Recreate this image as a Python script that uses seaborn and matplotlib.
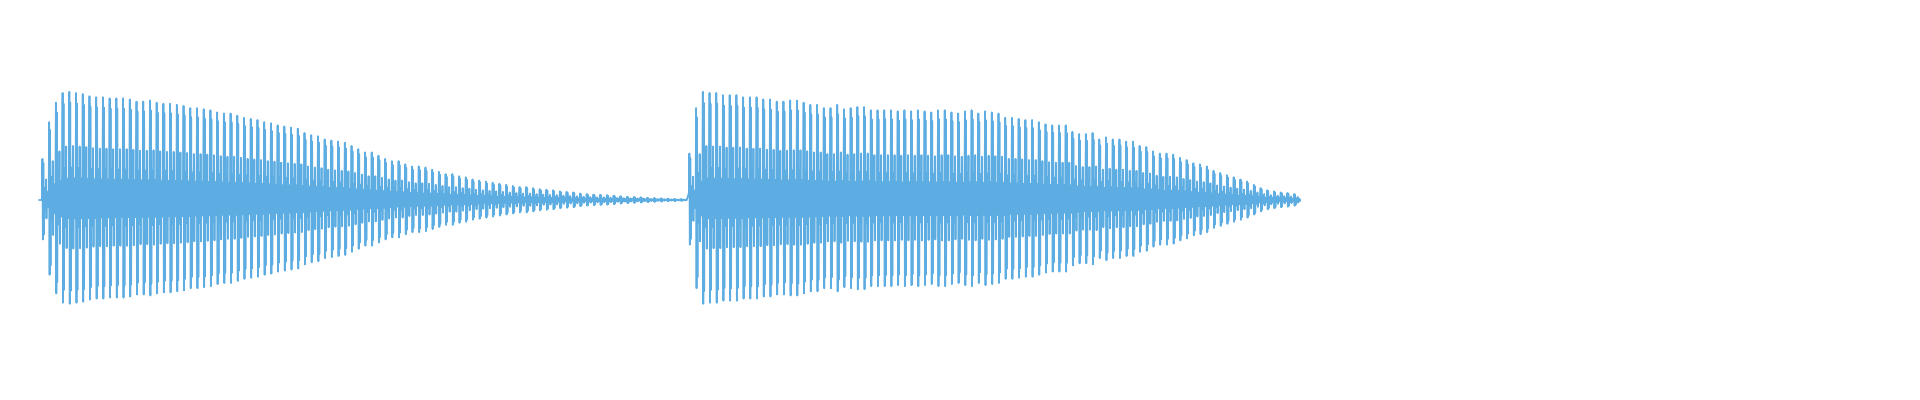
import matplotlib
matplotlib.use("Agg")
import matplotlib.pyplot as plt
import seaborn as sns
import numpy as np
import pandas as pd

# two plucked notes, one peak value per cycle (normalised to the loudest peak)
freq = 110.0
onsets = [0.0568, 0.932]
lead_in = 0.004

note1_peaks = [0.38, 0.72, 0.90, 0.99, 1.00, 0.99, 0.98, 0.96, 0.95, 0.95,
               0.94, 0.94, 0.94, 0.93, 0.91, 0.91, 0.92, 0.90, 0.89, 0.89,
               0.88, 0.87, 0.85, 0.85, 0.84, 0.83, 0.81, 0.80, 0.80, 0.78,
               0.76, 0.75, 0.74, 0.72, 0.71, 0.69, 0.68, 0.67, 0.66, 0.62,
               0.60, 0.59, 0.56, 0.55, 0.54, 0.53, 0.50, 0.47, 0.44, 0.44,
               0.41, 0.38, 0.36, 0.36, 0.33, 0.31, 0.31, 0.30, 0.28, 0.26,
               0.24, 0.24, 0.22, 0.21, 0.19, 0.18, 0.17, 0.16, 0.15, 0.14,
               0.13, 0.12, 0.12, 0.11, 0.10, 0.095, 0.09, 0.08, 0.075, 0.07,
               0.06, 0.055, 0.05, 0.048, 0.045, 0.04, 0.035, 0.03, 0.028, 0.025,
               0.02, 0.018, 0.015, 0.012, 0.01, 0.008]

note2_peaks = [0.43, 0.85, 1.00, 0.99, 0.99, 0.97, 0.97, 0.97, 0.95, 0.95,
               0.95, 0.93, 0.93, 0.91, 0.91, 0.92, 0.92, 0.90, 0.88, 0.88,
               0.85, 0.85, 0.88, 0.84, 0.85, 0.86, 0.86, 0.83, 0.83, 0.83,
               0.83, 0.82, 0.83, 0.82, 0.83, 0.82, 0.81, 0.83, 0.83, 0.81,
               0.80, 0.82, 0.83, 0.80, 0.82, 0.81, 0.80, 0.76, 0.76, 0.75,
               0.74, 0.74, 0.72, 0.70, 0.69, 0.69, 0.69, 0.63, 0.61, 0.61,
               0.62, 0.56, 0.58, 0.56, 0.56, 0.54, 0.54, 0.50, 0.49, 0.45,
               0.43, 0.43, 0.42, 0.39, 0.37, 0.34, 0.33, 0.31, 0.27, 0.25,
               0.23, 0.21, 0.19, 0.17, 0.14, 0.11, 0.09, 0.08, 0.07, 0.065,
               0.055]

# shape of one cycle (fraction of the peak)
cycle_shape = [0.15, 1.0, -0.96, 0.9, -0.84, 0.3, -0.25, 0.18, -0.16,
               0.5, -0.45, 0.18, -0.16, 0.2, -0.17]

t, amp = [onsets[0] - lead_in, onsets[0]], [0.0, 0.0]
for onset, peaks in zip(onsets, [note1_peaks, note2_peaks]):
    n = len(cycle_shape)
    for k, a in enumerate(peaks):
        for j, s in enumerate(cycle_shape):
            t.append(onset + (k + j / n) / freq)
            amp.append(a * s)

df = pd.DataFrame({"time": t, "amplitude": amp})

sns.set_style("white")
fig = plt.figure(figsize=(19.2, 4), dpi=100)
ax = fig.add_axes([0, 0, 1, 1])
sns.lineplot(data=df, x="time", y="amplitude", estimator=None, sort=False,
             color="#5dade2", linewidth=1.3, ax=ax)
ax.set_xlim(0, 1920 / 739.2)
ax.set_ylim(-1.85, 1.85)
ax.set_axis_off()
fig.savefig("out.png", dpi=100, facecolor="white")
